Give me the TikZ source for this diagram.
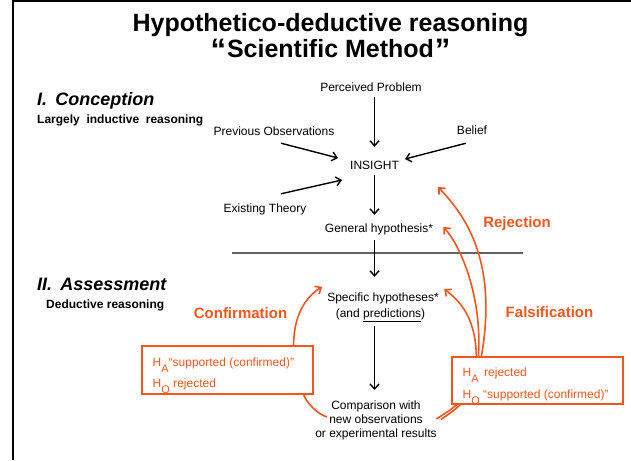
\documentclass[tikz,border=0pt]{standalone}
\usepackage{fontspec}
\setmainfont{Liberation Sans}
\usetikzlibrary{arrows.meta,calc}
\definecolor{oran}{RGB}{247,85,28}
\definecolor{sepgray}{RGB}{100,100,100}
\newcommand\hsub[1]{\raisebox{-6.5pt}{\fontsize{11}{11}\selectfont #1}}
\newcommand\bigq[1]{\raisebox{-2.5pt}{\fontsize{31}{31}\selectfont #1}}
\begin{document}
\begin{tikzpicture}[x=1pt,y=-1pt,
  lbl/.style={inner sep=0pt, font=\fontsize{12}{14}\selectfont, text height=8.8pt, text depth=2.6pt, anchor=base},
  mlbl/.style={inner sep=0pt, font=\fontsize{12}{14}\selectfont, align=center},
  ttl/.style={inner sep=0pt, font=\fontsize{25}{29}\selectfont\bfseries, anchor=base},
  sect/.style={inner sep=0pt, font=\fontsize{18}{20}\selectfont\bfseries\itshape, anchor=base west},
  sub/.style={inner sep=0pt, font=\fontsize{12}{14}\selectfont\bfseries, anchor=base west},
  olbl/.style={inner sep=0pt, font=\fontsize{15}{17}\selectfont\bfseries, text=oran, anchor=base},
  obox/.style={draw=oran, line width=1.2pt, inner sep=0pt, minimum width=171pt},
  otxt/.style={inner sep=0pt, font=\fontsize{12}{14}\selectfont, text=oran, anchor=base west},
  arr/.style={line width=1.4pt, -{Straight Barb[length=5pt,width=9pt,line width=1.4pt]}},
  oarr/.style={draw=oran, line width=1.6pt, -{Straight Barb[length=5pt,width=9pt,line width=1.6pt]}},
  oline/.style={draw=oran, line width=1.6pt}
]
\useasboundingbox (0,0) rectangle (631,460);
% frame
\draw[line width=2.5pt] (11.7,1.2) -- (631,1.2);
\draw[line width=2.6pt] (13,0) -- (13,460);

% titles
\node[ttl] (t1) at (330.5,31.5) {Hypothetico-deductive reasoning};
\node[ttl] (t2) at (330.5,57.5) {\bigq{“}\hspace{1pt}Scientific Method\hspace{1pt}\bigq{”}};

\node[sect] (conc) at (37,105.5) {I.\hspace{0.45em}Conception};
\node[sub] (largely) at (37,123.5) {Largely~~inductive~~reasoning};
\node[sect] (assess) at (37,290.5) {II.\hspace{0.45em}Assessment};
\node[sub] (deduct) at (46,308) {Deductive reasoning};

% main nodes
\node[lbl] (pp) at (371,91) {Perceived Problem};
\node[lbl] (prev) at (274,135) {Previous Observations};
\node[lbl] (belief) at (472,134) {Belief};
\node[lbl] (ins) at (374.5,169.3) {INSIGHT};
\node[lbl] (exist) at (265,212) {Existing Theory};
\node[lbl] (gh) at (379,232) {General hypothesis*};
\node[lbl] (spec) at (383,301) {Specific hypotheses*};
\node[lbl] (pred) at (380.5,317) {(and \underline{predictions})};
\node[mlbl, anchor=north] (comp) at (376,400.2) {Comparison with\\new observations\\or experimental results};

% separator
\draw[sepgray, line width=1.3pt] (232,253) -- (523,253);

% black arrows
\draw[arr] ($(pp.south -| ins)+(0,3.4)$) -- ($(ins.north)+(0,-13.5)$);
\draw[arr] ($(prev.south)+(7,5.4)$) -- ($(ins.west)+(-12,-8.2)$);
\draw[arr] ($(belief.south)+(-6,6.4)$) -- ($(ins.east)+(6,-7.2)$);
\draw[arr] ($(exist.north)+(16,-9.2)$) -- ($(ins.west)+(-8,13.8)$);
\draw[arr] ($(ins.south)+(0,3)$) -- ($(gh.north -| ins)+(0,-8.2)$);
\draw[arr] ($(gh.south -| ins)+(0,5.4)$) -- ($(spec.north -| ins)+(0,-15.2)$);
\draw[arr] ($(pred.south -| ins)+(0,6.4)$) -- ($(comp.north -| ins)+(0,-10.2)$);

% orange labels
\node[olbl] (confl) at (240.5,318.5) {Confirmation};
\node[olbl] (falsl) at (549.5,317.5) {Falsification};
\node[olbl] (rejl) at (517,227.5) {Rejection};

% boxes
\node[obox, minimum height=48pt] (lbox) at (227.5,370) {};
\node[otxt] (l1) at (152.5,366) {H\hsub{A}“supported (confirmed)”};
\node[otxt] (l2) at (152.5,387) {H\hsub{O} rejected};
\node[obox, minimum height=47pt] (rbox) at (537.5,380.5) {};
\node[otxt] (r1) at (462.5,376) {\makebox[21.5pt][l]{H\hsub{A}}rejected};
\node[otxt] (r2) at (462.5,398) {\makebox[20.5pt][l]{H\hsub{O}}“supported (confirmed)”};

% orange connectors
\draw[oarr] ($(lbox.north east)+(-20,0)$) .. controls ($(lbox.north east)+(-20,-28)$) and ($(spec.west)+(-23,0)$) .. ($(spec.west)+(-5,-11)$);
\draw[oline] ($(comp.west)+(12,-3)$) .. controls ($(comp.west)+(2,-6)$) and ($(lbox.south east)+(-7,8)$) .. ($(lbox.south east)+(-10,0)$);
\draw[oarr] ($(rbox.north west)+(30,0)$) .. controls ($(rbox.north west)+(46,-92)$) and ($(ins.east)+(69,52)$) .. ($(ins.east)+(39,20.8)$);
\draw[oarr] ($(rbox.north west)+(27,0)$) .. controls ($(rbox.north west)+(31,-60)$) and ($(gh.east)+(27,16)$) .. ($(gh.east)+(10,-1.9)$);
\draw[oarr] ($(rbox.north west)+(25,0)$) .. controls ($(rbox.north west)+(24,-42)$) and ($(spec.east)+(19,2)$) .. ($(spec.east)+(5.3,-8.9)$);
\draw[oline] ($(rbox.south west)+(5.5,0)$) .. controls ($(rbox.south west)+(-2,6)$) .. ($(comp.east)+(-0.5,-1)$);
\draw[oline] ($(rbox.south west)+(9,0)$) .. controls ($(rbox.south west)+(1,7)$) .. ($(comp.east)+(4,-0.5)$);
\end{tikzpicture}
\end{document}
